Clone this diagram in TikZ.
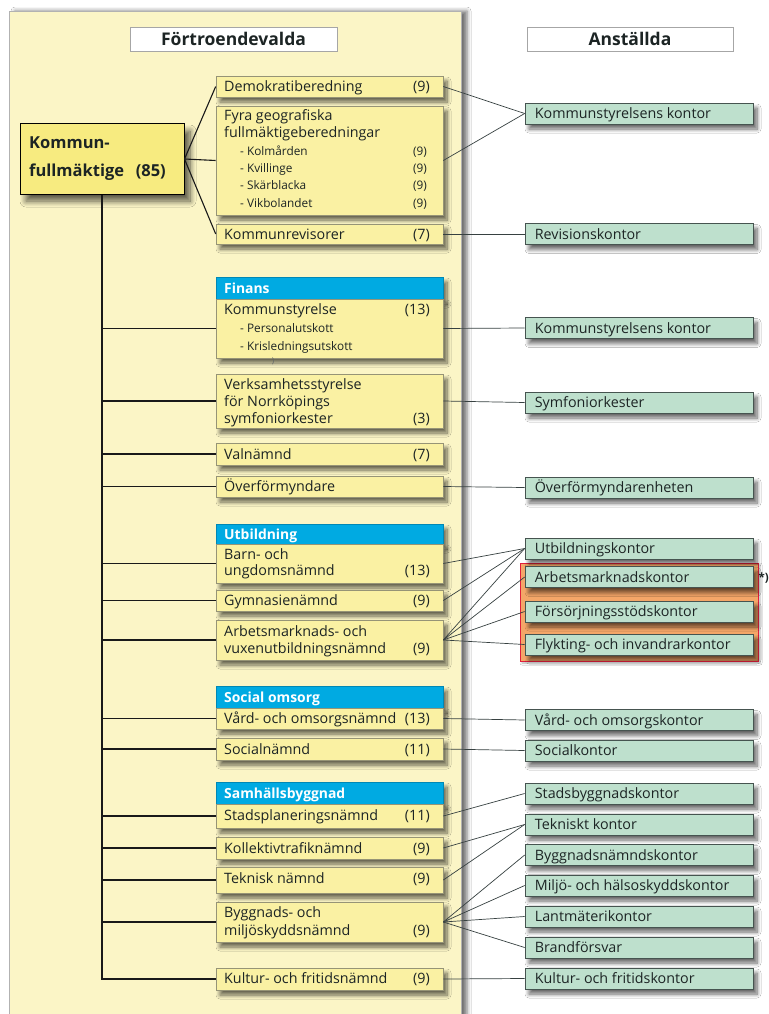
\documentclass[tikz,border=0pt]{standalone}
\usepackage{fontspec}
\setmainfont{Open Sans}
\usetikzlibrary{shadows.blur,calc}
\definecolor{panel}{RGB}{251,245,198}
\definecolor{ybox}{RGB}{250,241,163}
\definecolor{ybord}{RGB}{150,148,118}
\definecolor{kfbox}{RGB}{247,235,128}
\definecolor{gbox}{RGB}{190,224,205}
\definecolor{gbord}{RGB}{70,84,80}
\definecolor{bluehd}{RGB}{0,170,226}
\definecolor{txt}{RGB}{28,36,36}
\definecolor{orangebg}{RGB}{244,166,104}
\definecolor{redline}{RGB}{225,30,60}
\definecolor{lnk}{RGB}{55,65,65}
\tikzset{
 shd/.style={blur shadow={shadow xshift=4pt, shadow yshift=-5pt, shadow blur steps=8, shadow blur radius=4pt, shadow opacity=60}},
 ybx/.style={draw=ybord, line width=0.6pt, fill=ybox, minimum width=227pt, inner sep=0pt, shd},
 bhd/.style={draw=bluehd!80!black, line width=0.5pt, fill=bluehd, minimum width=227pt, inner sep=0pt, shd},
 gbx/.style={draw=gbord, line width=0.7pt, fill=gbox, minimum width=228pt, minimum height=21pt, inner sep=0pt, shd},
 tx/.style={inner sep=0pt, text=txt, font=\fontsize{14.3}{17}\selectfont},
 sx/.style={inner sep=0pt, text=txt, font=\fontsize{11.8}{14}\selectfont},
 hx/.style={inner sep=0pt, text=white, font=\fontsize{13.9}{16}\selectfont\bfseries},
 kx/.style={inner sep=0pt, text=txt, font=\fontsize{16.5}{20}\selectfont\bfseries},
 trunk/.style={line width=1.8pt, draw=black!90},
 kfl/.style={line width=1.1pt, draw=black!90},
 thin/.style={line width=0.7pt, draw=lnk},
}
\begin{document}
\begin{tikzpicture}[x=1pt,y=-1pt]
\clip (0,0) rectangle (768,1014);
\fill[white] (0,0) rectangle (768,1014);
% panel
\path[draw=black!30, line width=0.6pt, fill=panel, blur shadow={shadow xshift=6pt, shadow yshift=0pt, shadow blur radius=4pt, shadow opacity=55}] (9,11) rectangle (461,1040);
% headers
\node[draw=black!35, fill=white, minimum width=207pt, minimum height=24pt, inner sep=0pt] (hdrL) at (233.5,39) {};
\node[inner sep=0pt, text=txt, font=\fontsize{17.5}{20}\selectfont\bfseries] (hdrLt) at (233.5,39) {Förtroendevalda};
\node[draw=black!35, fill=white, minimum width=206pt, minimum height=24pt, inner sep=0pt] (hdrR) at (630,39) {};
\node[inner sep=0pt, text=txt, font=\fontsize{17.5}{20}\selectfont\bfseries] (hdrRt) at (630,39) {Anställda};

% Kommunfullmaktige
\node[draw=black, line width=1pt, fill=kfbox, minimum width=164pt, minimum height=70pt, inner sep=0pt,
  blur shadow={shadow xshift=6pt, shadow yshift=-7pt, shadow blur radius=6pt, shadow blur steps=10, shadow opacity=65}] (kf) at (102,159) {};
\node[kx, anchor=base west] (kft1) at (29,149) {Kommun-};
\node[kx, anchor=base west] (kft2) at (29,176) {fullmäktige};
\node[kx, anchor=base east] (kft3) at (166,176) {(85)};

% left boxes
\node[ybx, minimum height=21pt] (demo) at (329.5,86.5) {};
\node[tx, anchor=base west] (demot) at (224,92) {Demokratiberedning};
\node[tx, anchor=base east] (demon) at (430,92) {(9)};

\node[ybx, minimum height=109pt] (fyra) at (329.5,160.5) {};
\node[tx, anchor=base west] (fyrat1) at (224,121) {Fyra geografiska};
\node[tx, anchor=base west] (fyrat2) at (224,138) {fullmäktigeberedningar};
\node[sx, anchor=base west] (f1) at (240,155) {- Kolmården};
\node[sx, anchor=base east] (f1n) at (427,155) {(9)};
\node[sx, anchor=base west] (f2) at (240,172.5) {- Kvillinge};
\node[sx, anchor=base east] (f2n) at (427,172.5) {(9)};
\node[sx, anchor=base west] (f3) at (240,189.5) {- Skärblacka};
\node[sx, anchor=base east] (f3n) at (427,189.5) {(9)};
\node[sx, anchor=base west] (f4) at (240,207) {- Vikbolandet};
\node[sx, anchor=base east] (f4n) at (427,207) {(9)};

\node[ybx, minimum height=20pt] (krev) at (329.5,234) {};
\node[tx, anchor=base west] (krevt) at (224,239) {Kommunrevisorer};
\node[tx, anchor=base east] (krevn) at (430,239) {(7)};

\node[bhd, minimum height=22pt] (finH) at (329.5,288) {};
\node[hx, anchor=base west] (finHt) at (224,293) {Finans};
\node[ybx, minimum height=59pt] (ks) at (329.5,328.5) {};
\node[tx, anchor=base west] (kst) at (224,314) {Kommunstyrelse};
\node[tx, anchor=base east] (ksn) at (430,314) {(13)};
\node[sx, anchor=base west] (ks1) at (240,332) {- Personalutskott};
\node[sx, anchor=base west] (ks2) at (240,350) {- Krisledningsutskott};
\node[inner sep=0pt, text=txt!70, font=\fontsize{8}{8}\selectfont] (stray) at (273,361) {)};

\node[ybx, minimum height=54pt] (verk) at (329.5,401) {};
\node[tx, anchor=base west] (verkt1) at (224,389) {Verksamhetsstyrelse};
\node[tx, anchor=base west] (verkt2) at (224,406) {för Norrköpings};
\node[tx, anchor=base west] (verkt3) at (224,423) {symfoniorkester};
\node[tx, anchor=base east] (verkn) at (430,423) {(3)};

\node[ybx, minimum height=22pt] (val) at (329.5,454) {};
\node[tx, anchor=base west] (valt) at (224,459) {Valnämnd};
\node[tx, anchor=base east] (valn) at (430,459) {(7)};

\node[ybx, minimum height=21pt] (over) at (329.5,486.5) {};
\node[tx, anchor=base west] (overt) at (224,491) {Överförmyndare};

\node[bhd, minimum height=20pt] (utbH) at (329.5,534) {};
\node[hx, anchor=base west] (utbHt) at (224,539) {Utbildning};
\node[ybx, minimum height=39pt] (bun) at (329.5,563.5) {};
\node[tx, anchor=base west] (bunt1) at (224,559) {Barn- och};
\node[tx, anchor=base west] (bunt2) at (224,575) {ungdomsnämnd};
\node[tx, anchor=base east] (bunn) at (430,575) {(13)};

\node[ybx, minimum height=21pt] (gym) at (329.5,600.5) {};
\node[tx, anchor=base west] (gymt) at (224,605.5) {Gymnasienämnd};
\node[tx, anchor=base east] (gymn) at (430,605.5) {(9)};

\node[ybx, minimum height=40pt] (avn) at (329.5,640) {};
\node[tx, anchor=base west] (avnt1) at (224,636) {Arbetsmarknads- och};
\node[tx, anchor=base west] (avnt2) at (224,653) {vuxenutbildningsnämnd};
\node[tx, anchor=base east] (avnn) at (430,653) {(9)};

\node[bhd, minimum height=22pt] (socH) at (329.5,697) {};
\node[hx, anchor=base west] (socHt) at (224,702) {Social omsorg};
\node[ybx, minimum height=21pt] (von) at (329.5,718.5) {};
\node[tx, anchor=base west] (vont) at (224,723) {Vård- och omsorgsnämnd};
\node[tx, anchor=base east] (vonn) at (430,723) {(13)};

\node[ybx, minimum height=22pt] (soc) at (329.5,749) {};
\node[tx, anchor=base west] (soct) at (224,754.5) {Socialnämnd};
\node[tx, anchor=base east] (socn) at (430,754.5) {(11)};

\node[bhd, minimum height=22pt] (samH) at (329.5,793) {};
\node[hx, anchor=base west] (samHt) at (224,798) {Samhällsbyggnad};
\node[ybx, minimum height=24pt] (spn) at (329.5,816) {};
\node[tx, anchor=base west] (spnt) at (224,820.5) {Stadsplaneringsnämnd};
\node[tx, anchor=base east] (spnn) at (430,820.5) {(11)};

\node[ybx, minimum height=22pt] (kol) at (329.5,848) {};
\node[tx, anchor=base west] (kolt) at (224,853) {Kollektivtrafiknämnd};
\node[tx, anchor=base east] (koln) at (430,853) {(9)};

\node[ybx, minimum height=26pt] (tek) at (329.5,880) {};
\node[tx, anchor=base west] (tekt) at (224,883) {Teknisk nämnd};
\node[tx, anchor=base east] (tekn) at (430,883) {(9)};

\node[ybx, minimum height=40pt] (bmn) at (329.5,922) {};
\node[tx, anchor=base west] (bmnt1) at (224,917.5) {Byggnads- och};
\node[tx, anchor=base west] (bmnt2) at (224,935) {miljöskyddsnämnd};
\node[tx, anchor=base east] (bmnn) at (430,935) {(9)};

\node[ybx, minimum height=22pt] (kfn) at (329.5,979) {};
\node[tx, anchor=base west] (kfnt) at (224,983.5) {Kultur- och fritidsnämnd};
\node[tx, anchor=base east] (kfnn) at (430,983.5) {(9)};

% red/orange group
\path[draw=redline, line width=1pt, fill=orangebg, blur shadow={shadow xshift=2pt, shadow yshift=-2pt, shadow blur radius=2pt, shadow opacity=30}] (520,563) rectangle (758,661);
\node[inner sep=0pt, text=txt, font=\fontsize{11.5}{14}\selectfont\bfseries, anchor=base west] (star) at (758.3,581) {*)};

% right boxes
\foreach \nm/\yy/\tt in {
 ksk1/113.5/Kommunstyrelsens kontor,
 rev/234/Revisionskontor,
 ksk2/328/Kommunstyrelsens kontor,
 sym/402.5/Symfoniorkester,
 ofe/487.5/Överförmyndarenheten,
 utk/548.5/Utbildningskontor,
 amk/577/Arbetsmarknadskontor,
 fsk/611.5/Försörjningsstödskontor,
 fik/644.5/Flykting- och invandrarkontor,
 vok/720/Vård- och omsorgskontor,
 sok/750.5/Socialkontor,
 sbk/793.5/Stadsbyggnadskontor,
 tk/824.5/Tekniskt kontor,
 bnk/855/Byggnadsnämndskontor,
 mhk/885.5/Miljö- och hälsoskyddskontor,
 lmk/916.5/Lantmäterikontor,
 bf/947.5/Brandförsvar,
 kfk/978.5/Kultur- och fritidskontor}{
 \node[gbx] (\nm) at (639,\yy) {};
 \node[tx, anchor=base west] (\nm t) at ([xshift=10pt,yshift=-5pt]\nm.west) {\tt};
}

% trunk
\draw[trunk] (kf.south) -- (kf.south |- kfn.west) -- (kfn.west);
\foreach \b in {ks,verk,val,over,bun,gym,avn,von,soc,spn,kol,tek,bmn}{
 \draw[trunk] (kf.south |- \b.west) -- (\b.west);
}
\draw[kfl] (kf.east) -- (demo.west);
\draw[kfl] (kf.east) -- (fyra.west);
\draw[kfl] (kf.east) -- (krev.west);

% right connectors
\draw[thin] (demo.east) -- (ksk1.west);
\draw[thin] (fyra.east) -- (ksk1.west);
\draw[thin] (krev.east) -- (rev.west);
\draw[thin] (ks.east) -- (ksk2.west);
\draw[thin] (verk.east) -- (sym.west);
\draw[thin] (over.east) -- (ofe.west);
\draw[thin] (bun.east) -- (utk.west);
\draw[thin] (gym.east) -- (utk.west);
\draw[thin] (avn.east) -- (utk.west);
\draw[thin] (avn.east) -- (amk.west);
\draw[thin] (avn.east) -- (fsk.west);
\draw[thin] (avn.east) -- (fik.west);
\draw[thin] (von.east) -- (vok.west);
\draw[thin] (soc.east) -- (sok.west);
\draw[thin] (spn.east) -- (sbk.west);
\draw[thin] (kol.east) -- (tk.west);
\draw[thin] (tek.east) -- (tk.west);
\draw[thin] (bmn.east) -- (bnk.west);
\draw[thin] (bmn.east) -- (mhk.west);
\draw[thin] (bmn.east) -- (lmk.west);
\draw[thin] (bmn.east) -- (bf.west);
\draw[thin] (kfn.east) -- (kfk.west);
\end{tikzpicture}
\end{document}
